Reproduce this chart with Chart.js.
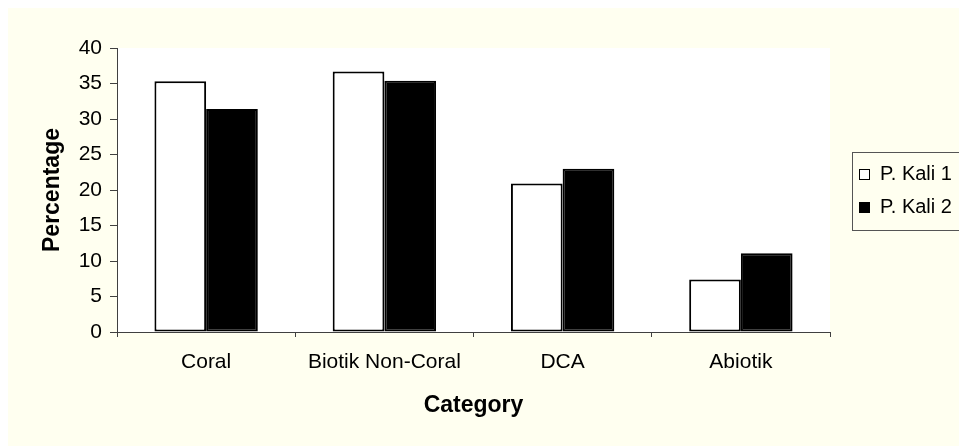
<!DOCTYPE html>
<html lang="id">
<head>
  <meta charset="UTF-8">
  <title>Percentage per Category</title>
  <script src="https://cdn.jsdelivr.net/npm/chart.js"></script>
  <style>
    html, body { margin: 0; padding: 0; overflow: hidden; background: #fff; }
    body { padding: 8px 0 0 8px; }
    /* fondo amarillo claro del gráfico */
    #chart { background: #FFFFF0; display: block; }
  </style>
</head>
<body>
  <canvas id="chart" width="951" height="438"></canvas>
  <script>
    // datos
    const categories = ['Coral', 'Biotik Non-Coral', 'DCA', 'Abiotik'];
    const seriesNames = ['P. Kali 1', 'P. Kali 2'];
    const kali1 = [35.3, 36.7, 20.9, 7.4];
    const kali2 = [31.4, 35.4, 23.0, 11.1];
    const yTicks = [0, 5, 10, 15, 20, 25, 30, 35, 40];

    const FONT = "'Liberation Sans', Arial, sans-serif";
    Chart.defaults.font.family = FONT;
    Chart.defaults.font.size = 21;
    Chart.defaults.color = '#000';

    // fondo blanco del área de trazado
    const plotBg = {
      id: 'plotBg',
      beforeDraw(chart) {
        const { ctx, chartArea: a } = chart;
        ctx.save();
        ctx.fillStyle = '#fff';
        ctx.fillRect(a.left, a.top, a.right - a.left, a.bottom - a.top);
        ctx.restore();
      }
    };

    // leyenda con recuadro, como en el original
    const boxLegend = {
      id: 'boxLegend',
      afterDraw(chart) {
        const ctx = chart.ctx;
        ctx.save();
        ctx.fillStyle = '#FFFFF0';
        ctx.fillRect(844, 144, 120, 78);
        ctx.strokeStyle = '#555';
        ctx.lineWidth = 1;
        ctx.strokeRect(844.5, 144.5, 120, 78);
        ctx.font = '20px ' + FONT;
        ctx.textBaseline = 'middle';
        chart.data.datasets.forEach((ds, i) => {
          const y = 166 + i * 33;
          ctx.fillStyle = ds.backgroundColor;
          ctx.fillRect(851, y - 5, 11, 11);
          ctx.strokeStyle = '#000';
          ctx.strokeRect(851.5, y - 4.5, 10, 10);
          ctx.fillStyle = '#000';
          ctx.fillText(ds.label, 872, y);
        });
        ctx.restore();
      }
    };

    new Chart(document.getElementById('chart'), {
      type: 'bar',
      data: {
        labels: categories,
        datasets: [
          { label: seriesNames[0], data: kali1, backgroundColor: '#ffffff', borderColor: '#000', borderWidth: 2, borderSkipped: false },
          { label: seriesNames[1], data: kali2, backgroundColor: '#000000', borderColor: '#000', borderWidth: 2, borderSkipped: false }
        ]
      },
      options: {
        responsive: false,
        animation: false,
        categoryPercentage: 0.58,
        barPercentage: 1.0,
        layout: { padding: { top: 40, right: 129, left: 0, bottom: 0 } },
        plugins: {
          legend: { display: false },
          tooltip: { enabled: false }
        },
        scales: {
          x: {
            grid: { offset: true, drawOnChartArea: false, tickLength: 5, color: '#404040' },
            border: { color: '#404040' },
            ticks: { padding: 13, maxRotation: 0 },
            title: { display: true, text: 'Category', font: { size: 23, weight: 'bold' }, padding: { top: 0, bottom: 27 } },
            afterFit(scale) { scale.height = 114; }
          },
          y: {
            min: 0,
            max: 40,
            afterBuildTicks(scale) { scale.ticks = yTicks.map(v => ({ value: v })); },
            grid: { drawOnChartArea: false, tickLength: 7, color: '#404040' },
            border: { color: '#404040' },
            ticks: { padding: 8 },
            title: { display: true, text: 'Percentage', font: { size: 23, weight: 'bold' }, padding: { top: 31, bottom: 0 } },
            afterFit(scale) { scale.width = 109; }
          }
        }
      },
      plugins: [plotBg, boxLegend]
    });
  </script>
</body>
</html>
